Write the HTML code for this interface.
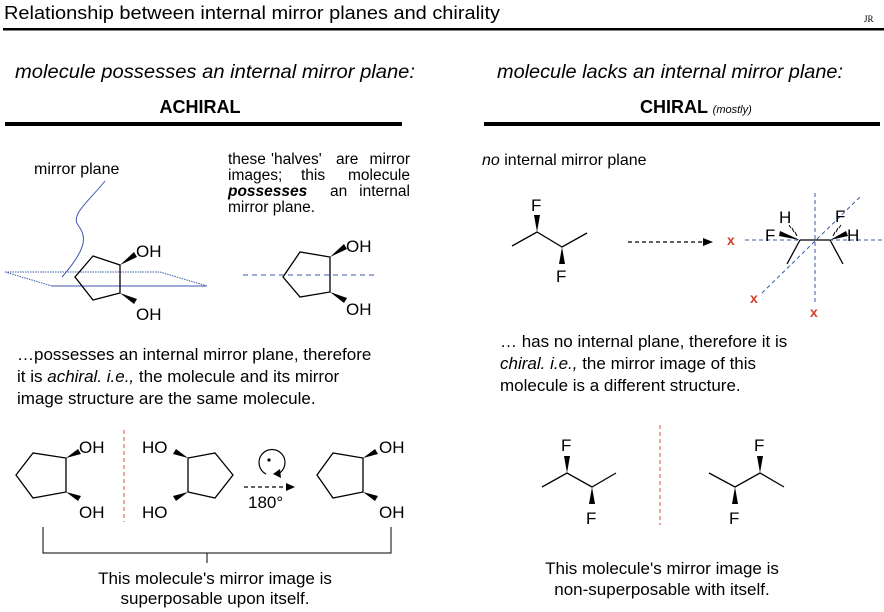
<!DOCTYPE html>
<html><head><meta charset="utf-8"><style>
html,body{margin:0;padding:0;background:#fff;}
svg{display:block;font-family:"Liberation Sans",Arial,sans-serif;}
</style></head><body>
<svg width="884" height="612" viewBox="0 0 884 612" xmlns="http://www.w3.org/2000/svg">
<text x="4" y="19" font-size="18" textLength="496" lengthAdjust="spacingAndGlyphs">Relationship between internal mirror planes and chirality</text>
<text x="864" y="22" font-size="9" font-family="Liberation Serif,serif">JR</text>
<rect x="3" y="28" width="881" height="2.5" fill="#000"/>

<text x="215" y="78" font-size="19" font-style="italic" text-anchor="middle" textLength="400" lengthAdjust="spacingAndGlyphs">molecule possesses an internal mirror plane:</text>
<text x="670" y="78" font-size="19" font-style="italic" text-anchor="middle" textLength="346" lengthAdjust="spacingAndGlyphs">molecule lacks an internal mirror plane:</text>
<text x="200" y="113" font-size="18" font-weight="bold" text-anchor="middle">ACHIRAL</text>
<text x="640" y="113" font-size="18" font-weight="bold">CHIRAL <tspan font-size="11" font-weight="normal" font-style="italic">(mostly)</tspan></text>
<rect x="5" y="122" width="397" height="4" fill="#000"/>
<rect x="484" y="122" width="396" height="4" fill="#000"/>

<!-- left top -->
<text x="34" y="174" font-size="16">mirror plane</text>
<path d="M105,181 C90,200 70,215 78,225 C85,235 90,245 62,277" fill="none" stroke="#3a5aa8" stroke-width="1"/>
<path d="M5,272 L160,272 L207,286 M5,272 L52,286" fill="none" stroke="#3a5aa8" stroke-width="1" stroke-dasharray="1.5,1"/>
<path d="M52,286 L207,286" stroke="#3a5aa8" stroke-width="1"/>
<g stroke="#000" stroke-width="1.3" fill="none">
<polygon points="93,256 120,265 120,293 93,300 75,277"/>
<path d="M283,277 L300,252 L330,257 L330,292 L300,297 Z"/>
</g>
<polygon points="120,265 134,252 137,257" fill="#000"/>
<polygon points="120,293 134,304 137,299" fill="#000"/>
<text x="136" y="257" font-size="17">OH</text>
<text x="136" y="320" font-size="17">OH</text>
<polygon points="330,257 344,244 347,249" fill="#000"/>
<polygon points="330,292 344,303 347,298" fill="#000"/>
<text x="346" y="252" font-size="17">OH</text>
<text x="346" y="315" font-size="17">OH</text>
<line x1="243" y1="275" x2="377" y2="275" stroke="#3a5aa8" stroke-width="1" stroke-dasharray="5,4"/>

<g font-size="15.5">
<text x="228" y="164">these</text><text x="271" y="164">'halves'</text><text x="336" y="164">are</text><text x="410" y="164" text-anchor="end">mirror</text>
<text x="228" y="180">images;</text><text x="301" y="180">this</text><text x="410" y="180" text-anchor="end">molecule</text>
<text x="228" y="196" font-weight="bold" font-style="italic">possesses</text><text x="330" y="196">an</text><text x="410" y="196" text-anchor="end">internal</text>
<text x="228" y="212">mirror plane.</text>
</g>

<g font-size="17">
<text x="17" y="360">…possesses an internal mirror plane, therefore</text>
<text x="17" y="382">it is <tspan font-style="italic">achiral. i.e.,</tspan> the molecule and its mirror</text>
<text x="17" y="404">image structure are the same molecule.</text>
</g>

<!-- left bottom -->
<g stroke="#000" stroke-width="1.3" fill="none">
<polygon points="16,475 33,453 66,458 66,492 33,498"/>
<polygon points="233,475 215,453 188,458 188,492 215,498"/>
<polygon points="317,475 333,453 363,458 363,492 333,498"/>
</g>
<g fill="#000">
<polygon points="66,458 78,449 81,454"/><polygon points="66,492 78,501 81,496"/>
<polygon points="188,458 176,449 173,454"/><polygon points="188,492 176,501 173,496"/>
<polygon points="363,458 375,449 378,454"/><polygon points="363,492 375,501 378,496"/>
</g>
<g font-size="17">
<text x="79" y="453">OH</text><text x="79" y="518">OH</text>
<text x="142" y="453">HO</text><text x="142" y="518">HO</text>
<text x="379" y="453">OH</text><text x="379" y="518">OH</text>
<text x="248" y="508">180°</text>
</g>
<line x1="124" y1="430" x2="124" y2="522" stroke="#d0503a" stroke-width="1" stroke-dasharray="4,3"/>
<path d="M266,474 A13,13 0 1 1 278,474" fill="none" stroke="#000" stroke-width="1.2"/>
<polygon points="273,474 280,469 281,478" fill="#000"/>
<circle cx="269" cy="460" r="1.6" fill="#000"/>
<line x1="244" y1="487" x2="287" y2="487" stroke="#000" stroke-width="1.2" stroke-dasharray="4,3"/>
<polygon points="295,487 286,483 286,491" fill="#000"/>
<path d="M43,527 V553 H391 V527 M207,553 V563" fill="none" stroke="#000" stroke-width="1"/>
<text x="215" y="584" font-size="17" text-anchor="middle">This molecule's mirror image is</text>
<text x="215" y="604" font-size="17" text-anchor="middle">superposable upon itself.</text>

<!-- right top -->
<text x="482" y="165" font-size="16"><tspan font-style="italic">no</tspan> internal mirror plane</text>
<polyline points="512,246 537,232 562,247 587,233" fill="none" stroke="#000" stroke-width="1.3"/>
<polygon points="537,232 534,215 540,215" fill="#000"/>
<polygon points="562,247 559,264 565,264" fill="#000"/>
<text x="531" y="211" font-size="17">F</text>
<text x="556" y="282" font-size="17">F</text>
<line x1="628" y1="242" x2="705" y2="242" stroke="#000" stroke-width="1.2" stroke-dasharray="4,3"/>
<polygon points="713,242 703,238 703,246" fill="#000"/>
<g stroke="#3a5aa8" stroke-width="1" stroke-dasharray="4,3">
<line x1="745" y1="240" x2="884" y2="240"/>
<line x1="815" y1="193" x2="815" y2="305"/>
<line x1="762" y1="293" x2="862" y2="195"/>
</g>
<g fill="#d0402a" font-size="14" font-weight="bold">
<text x="727" y="245">x</text><text x="750" y="303">x</text><text x="810" y="317">x</text>
</g>
<g stroke="#000" stroke-width="1.3" fill="none">
<line x1="800" y1="240" x2="830" y2="240"/>
<line x1="800" y1="240" x2="787" y2="264"/>
<line x1="830" y1="240" x2="843" y2="264"/>
<path d="M797,236 L795,232 M794,232 L792,228 M791,228 L789,225 M833,236 L835,232 M836,232 L838,228 M839,228 L841,225" stroke-width="1"/>
</g>
<polygon points="800,240 780,231 779,236" fill="#000"/>
<polygon points="830,240 846,231 848,236" fill="#000"/>
<g font-size="17">
<text x="779" y="223">H</text><text x="765" y="241">F</text>
<text x="835" y="222">F</text><text x="847" y="241">H</text>
</g>

<g font-size="17">
<text x="500" y="347">… has no internal plane, therefore it is</text>
<text x="500" y="369"><tspan font-style="italic">chiral. i.e.,</tspan> the mirror image of this</text>
<text x="500" y="391">molecule is a different structure.</text>
</g>

<!-- right bottom -->
<polyline points="542,487 567,473 592,487 616,473" fill="none" stroke="#000" stroke-width="1.3"/>
<polygon points="567,473 564,456 570,456" fill="#000"/>
<polygon points="592,487 589,504 595,504" fill="#000"/>
<text x="561" y="451" font-size="17">F</text><text x="586" y="524" font-size="17">F</text>
<line x1="660" y1="425" x2="660" y2="525" stroke="#d0503a" stroke-width="1" stroke-dasharray="4,3"/>
<polyline points="709,473 735,487 760,473 784,487" fill="none" stroke="#000" stroke-width="1.3"/>
<polygon points="760,473 757,456 763,456" fill="#000"/>
<polygon points="735,487 732,504 738,504" fill="#000"/>
<text x="754" y="451" font-size="17">F</text><text x="729" y="524" font-size="17">F</text>
<text x="662" y="574" font-size="17" text-anchor="middle">This molecule's mirror image is</text>
<text x="662" y="595" font-size="17" text-anchor="middle">non-superposable with itself.</text>
</svg>
</body></html>
